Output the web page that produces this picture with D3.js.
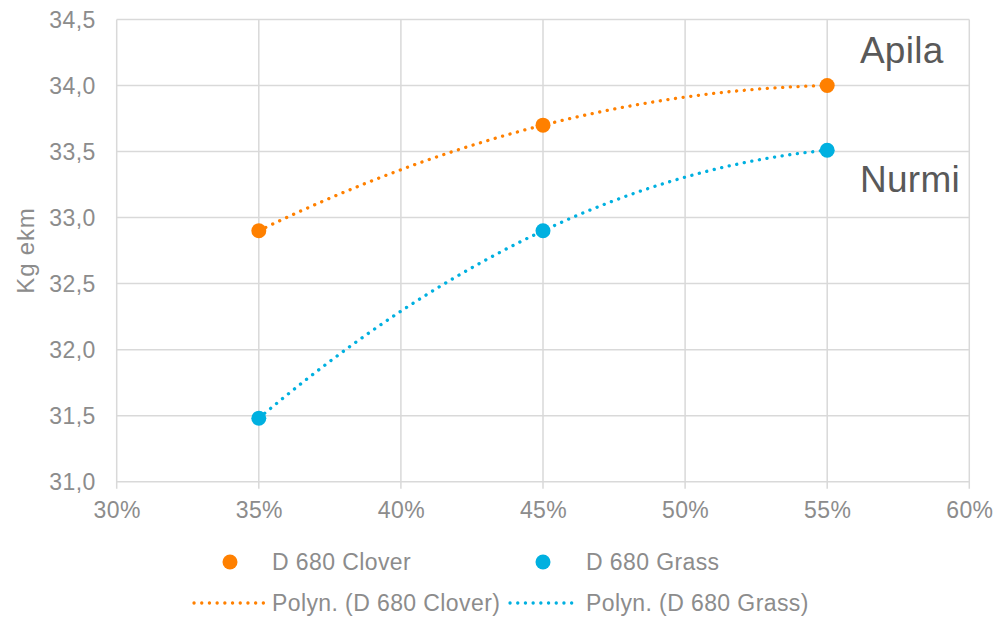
<!DOCTYPE html>
<html>
<head>
<meta charset="utf-8">
<script src="https://cdn.jsdelivr.net/npm/d3@7"></script>
<style>
  html, body { margin: 0; padding: 0; background: #fff; }
  svg { display: block; font-family: "Liberation Sans", Arial, sans-serif; }
  .txt { font-size: 23px; letter-spacing: 0.4px; }
</style>
</head>
<body>
<svg id="chart" width="996" height="617"></svg>
<script>
(function () {
    'use strict';

    // Data
    const shares = [0.35, 0.45, 0.55];
    const clover = [32.9, 33.7, 34.0];
    const grass = [31.48, 32.9, 33.51];

    const xTicks = [0.30, 0.35, 0.40, 0.45, 0.50, 0.55, 0.60];
    const yTicks = [31.0, 31.5, 32.0, 32.5, 33.0, 33.5, 34.0, 34.5];

    const seriesNames = ['D 680 Clover', 'D 680 Grass'];
    const trendNames = ['Polyn. (D 680 Clover)', 'Polyn. (D 680 Grass)'];
    const yTitle = 'Kg ekm';
    const labels = [
        { text: 'Apila', x: 0.5615, y: 34.17 },
        { text: 'Nurmi', x: 0.5615, y: 33.194 }
    ];

    const COLORS = {
        clover: '#ff8000',
        grass: '#00b0e0',
        grid: '#d9d9d9',
        tick: '#8c8c8c',
        label: '#595959'
    };

    const svg = d3.select('#chart');
    const plot = { left: 116.7, right: 969.3, top: 19.5, bottom: 481.7 };

    const x = d3.scaleLinear().domain([0.30, 0.60]).range([plot.left, plot.right]);
    const y = d3.scaleLinear().domain([31.0, 34.5]).range([plot.bottom, plot.top]);

    /**
     * Second order polynomial through the points (Excel "Polyn." trendline, order 2)
     */
    function quadFit(xs, ys) {
        return function (t) {
            let sum = 0;
            for (let i = 0; i < xs.length; i++) {
                let term = ys[i];
                for (let j = 0; j < xs.length; j++) {
                    if (j !== i) term *= (t - xs[j]) / (xs[i] - xs[j]);
                }
                sum += term;
            }
            return sum;
        };
    }

    // Gridlines
    const grid = svg.append('g').attr('class', 'grid');
    grid.selectAll('line.h')
        .data(yTicks)
        .enter()
        .append('line')
        .attr('x1', plot.left)
        .attr('x2', plot.right)
        .attr('y1', d => y(d))
        .attr('y2', d => y(d))
        .attr('stroke', COLORS.grid)
        .attr('stroke-width', 1.5);

    grid.selectAll('line.v')
        .data(xTicks)
        .enter()
        .append('line')
        .attr('x1', d => x(d))
        .attr('x2', d => x(d))
        .attr('y1', plot.top)
        .attr('y2', plot.bottom + 7)
        .attr('stroke', COLORS.grid)
        .attr('stroke-width', 1.5);

    // Axes (labels only, lines are drawn as grid)
    const xAxis = d3.axisBottom(x)
        .tickValues(xTicks)
        .tickSize(0)
        .tickPadding(0)
        .tickFormat(d3.format('.0%'));
    const gx = svg.append('g')
        .attr('transform', `translate(0,${plot.bottom})`)
        .call(xAxis);
    gx.select('.domain').remove();
    gx.selectAll('text')
        .attr('class', 'txt')
        .attr('dy', null)
        .attr('y', 36)
        .attr('fill', COLORS.tick)
        .attr('font-size', null);

    const yAxis = d3.axisLeft(y)
        .tickValues(yTicks)
        .tickSize(0)
        .tickPadding(0)
        .tickFormat(d => d.toFixed(1).replace('.', ','));
    const gy = svg.append('g')
        .attr('transform', `translate(${plot.left - 21},0)`)
        .call(yAxis);
    gy.select('.domain').remove();
    gy.selectAll('text')
        .attr('class', 'txt')
        .attr('dy', '0.36em')
        .attr('fill', COLORS.tick);
    gx.attr('font-size', null).attr('font-family', null);
    gy.attr('font-size', null).attr('font-family', null);

    // Axis title
    svg.append('text')
        .attr('transform', `translate(34,${(plot.top + plot.bottom) / 2}) rotate(-90)`)
        .attr('text-anchor', 'middle')
        .attr('fill', COLORS.tick)
        .style('font-size', '24px')
        .style('letter-spacing', '0.8px')
        .text(yTitle);

    // Trendlines
    const series = [
        { values: clover, color: COLORS.clover },
        { values: grass, color: COLORS.grass }
    ];
    const line = d3.line().x(d => x(d[0])).y(d => y(d[1]));
    const xs = d3.range(0, 201).map(i => shares[0] + (shares[2] - shares[0]) * i / 200);

    series.forEach(s => {
        const f = quadFit(shares, s.values);
        svg.append('path')
            .datum(xs.map(t => [t, f(t)]))
            .attr('d', line)
            .attr('fill', 'none')
            .attr('stroke', s.color)
            .attr('stroke-width', 3.3)
            .attr('stroke-linecap', 'round')
            .attr('stroke-dasharray', '0.1 7.6');
    });

    // Markers
    series.forEach(s => {
        svg.append('g')
            .selectAll('circle')
            .data(shares.map((t, i) => [t, s.values[i]]))
            .enter()
            .append('circle')
            .attr('cx', d => x(d[0]))
            .attr('cy', d => y(d[1]))
            .attr('r', 7.5)
            .attr('fill', s.color);
    });

    // Text labels inside the plot
    svg.selectAll('text.series-label')
        .data(labels)
        .enter()
        .append('text')
        .attr('class', 'series-label')
        .attr('x', d => x(d.x))
        .attr('y', d => y(d.y))
        .attr('fill', COLORS.label)
        .style('font-size', '37px')
        .style('letter-spacing', '0.3px')
        .text(d => d.text);

    // Legend
    const legend = svg.append('g').attr('class', 'legend');
    const markerItems = [
        { cx: 230, text: seriesNames[0], tx: 272, color: COLORS.clover },
        { cx: 543, text: seriesNames[1], tx: 586, color: COLORS.grass }
    ];
    markerItems.forEach(item => {
        legend.append('circle')
            .attr('cx', item.cx)
            .attr('cy', 562)
            .attr('r', 7.5)
            .attr('fill', item.color);
        legend.append('text')
            .attr('class', 'txt')
            .attr('x', item.tx)
            .attr('y', 562)
            .attr('dy', '0.36em')
            .attr('fill', COLORS.tick)
            .text(item.text);
    });

    const lineItems = [
        { x1: 194, x2: 265, text: trendNames[0], tx: 272, color: COLORS.clover },
        { x1: 510, x2: 579, text: trendNames[1], tx: 586, color: COLORS.grass }
    ];
    lineItems.forEach(item => {
        legend.append('line')
            .attr('x1', item.x1)
            .attr('x2', item.x2)
            .attr('y1', 603)
            .attr('y2', 603)
            .attr('stroke', item.color)
            .attr('stroke-width', 3.3)
            .attr('stroke-linecap', 'round')
            .attr('stroke-dasharray', '0.1 7.6');
        legend.append('text')
            .attr('class', 'txt')
            .attr('x', item.tx)
            .attr('y', 603)
            .attr('dy', '0.36em')
            .attr('fill', COLORS.tick)
            .text(item.text);
    });
})();
</script>
</body>
</html>
